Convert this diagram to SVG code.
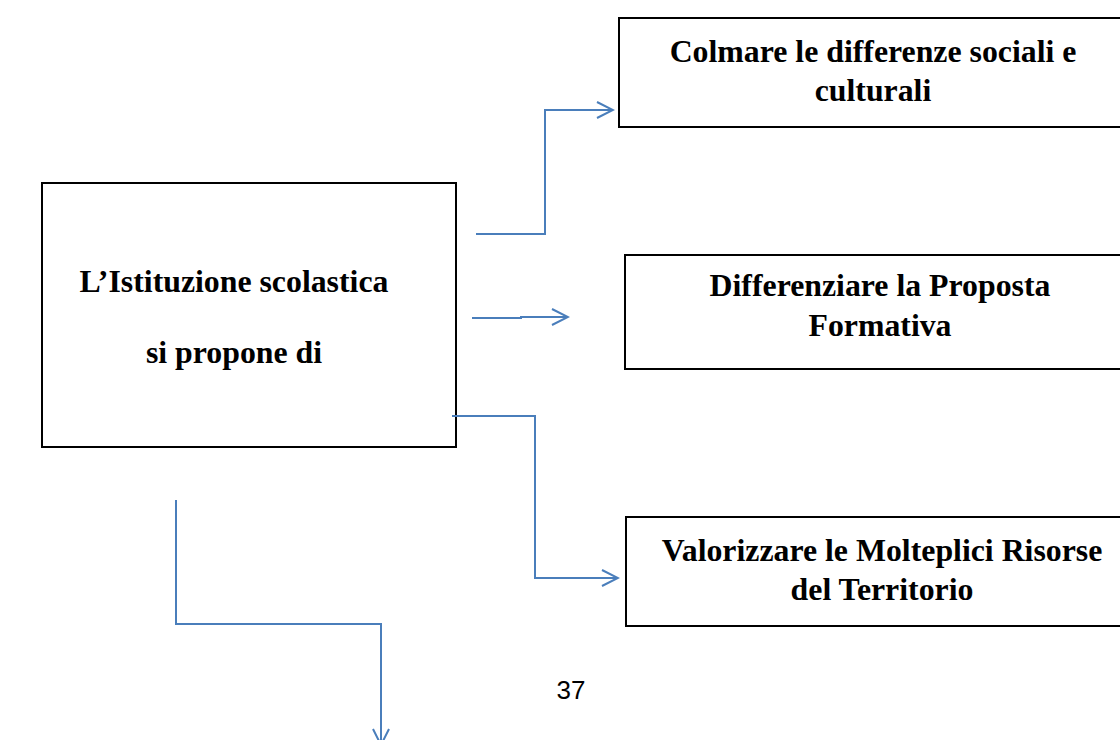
<svg xmlns="http://www.w3.org/2000/svg" width="1120" height="740" viewBox="0 0 1120 740">
<style>
.box{fill:#fff;stroke:#000;stroke-width:2}
.t{font-family:"Liberation Serif","Times New Roman",serif;font-weight:bold;font-size:31.8px;fill:#000;text-anchor:middle}
.c{fill:none;stroke:#4a7ebb;stroke-width:2}
.pg{font-family:"Liberation Sans",Arial,sans-serif;font-size:26px;fill:#000;text-anchor:middle}
</style>
<defs>
<marker id="arr" viewBox="0 0 20 20" refX="18" refY="10" markerWidth="20" markerHeight="20" markerUnits="userSpaceOnUse" orient="auto">
<path d="M2,2 L18,10 L2,18" fill="none" stroke="#4a7ebb" stroke-width="2"/>
</marker>
</defs>
<rect width="1120" height="740" fill="#fff"/>
<g id="main">
<rect class="box" x="42" y="183" width="414" height="264"/>
<text class="t" x="234" y="292">L’Istituzione scolastica</text>
<text class="t" x="234" y="363">si propone di</text>
</g>
<g id="n1">
<path class="box" d="M1121,18 H619 V127 H1121"/>
<text class="t" x="873" y="62">Colmare le differenze sociali e</text>
<text class="t" x="873" y="101">culturali</text>
</g>
<g id="n2">
<path class="box" d="M1121,255 H625 V369 H1121"/>
<text class="t" x="880" y="296">Differenziare la Proposta</text>
<text class="t" x="880" y="336">Formativa</text>
</g>
<g id="n3">
<path class="box" d="M1121,517 H626 V626 H1121"/>
<text class="t" x="882" y="561">Valorizzare le Molteplici Risorse</text>
<text class="t" x="882" y="600">del Territorio</text>
</g>
<g id="connectors">
<path class="c" d="M476,234 H545 V110 H613" marker-end="url(#arr)"/>
<path class="c" d="M472,318 H521 V317 H568" marker-end="url(#arr)"/>
<path class="c" d="M452,416 H535 V578 H618" marker-end="url(#arr)"/>
<path class="c" d="M176,500 V624 H381 V745" marker-end="url(#arr)"/>
</g>
<text class="pg" x="571" y="699">37</text>
</svg>
